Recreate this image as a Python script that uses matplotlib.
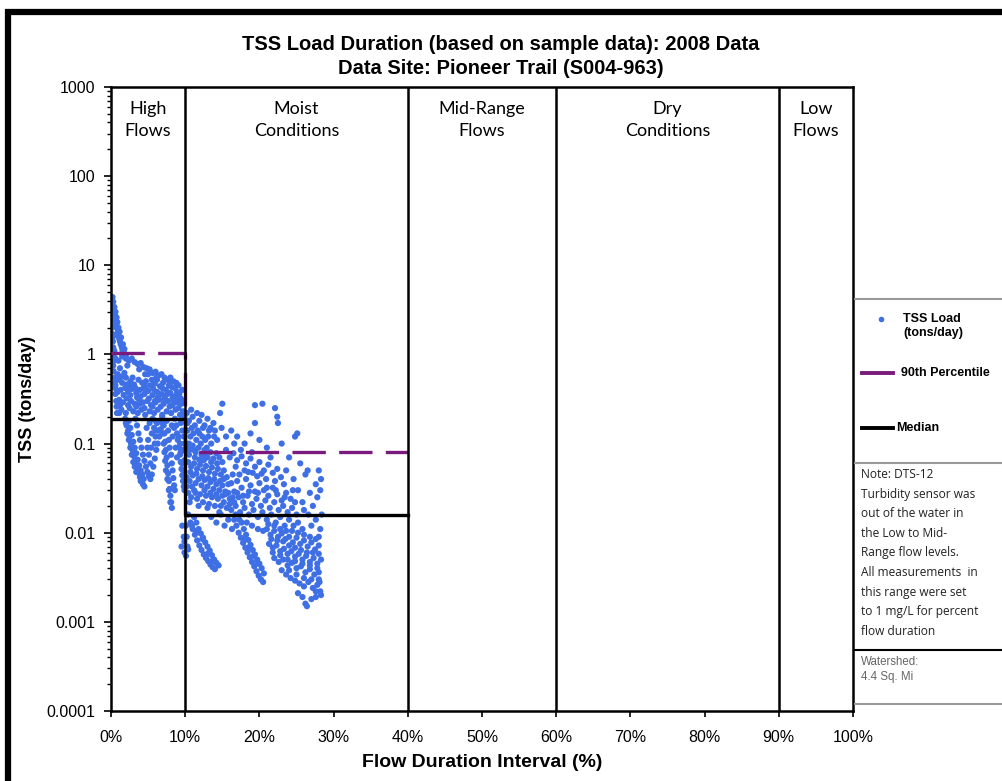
import matplotlib.pyplot as plt
import matplotlib.lines as mlines
import matplotlib.patches as mpatches
import numpy as np

plt.rcParams['font.family'] = ['Liberation Sans', 'DejaVu Sans']

# ---- data ----
zone_edges = [10, 40, 60, 90]
zone_labels = ['High\nFlows', 'Moist\nConditions', 'Mid-Range\nFlows', 'Dry\nConditions', 'Low\nFlows']
zone_centers = [5, 25, 50, 75, 95]

pct90_x = [0, 10, 10, 40]
pct90_y = [1.05, 1.05, 0.08, 0.08]
median_x = [0, 10, 10, 40]
median_y = [0.19, 0.19, 0.016, 0.016]

y_ticks = [0.0001, 0.001, 0.01, 0.1, 1, 10, 100, 1000]
y_tick_labels = ['0.0001', '0.001', '0.01', '0.1', '1', '10', '100', '1000']
x_ticks = [0, 10, 20, 30, 40, 50, 60, 70, 80, 90, 100]
x_tick_labels = ['%d%%' % t for t in x_ticks]

# high flows (0-10 %)
high_pts = [
    (0.1, 4.2), (0.15, 3.8), (0.2, 4.4), (0.25, 3.5), (0.3, 3.9), (0.35, 3.2), (0.4, 3.0), (0.45, 3.4),
    (0.5, 2.8), (0.55, 2.6), (0.6, 3.0), (0.65, 2.4), (0.7, 2.2), (0.75, 2.6), (0.8, 2.0), (0.85, 2.3),
    (0.9, 1.9), (0.95, 1.75), (1.0, 2.0), (1.05, 1.6), (1.1, 1.5), (1.15, 1.8), (1.2, 1.4), (1.3, 1.3),
    (1.35, 1.55), (1.45, 1.2), (1.55, 1.1), (1.6, 1.3), (1.7, 1.05), (1.8, 1.15), (1.9, 1.0), (2.0, 0.95),
    (0.05, 2.9), (0.1, 2.5), (0.15, 2.0), (0.2, 1.7), (0.25, 1.4), (0.3, 1.2), (0.35, 1.0), (0.4, 0.85),
    (0.3, 0.75), (0.35, 0.65), (0.45, 0.55), (0.5, 0.48), (0.55, 0.42), (0.6, 0.36), (0.7, 0.3),
    (0.75, 0.26), (0.8, 0.22), (0.05, 3.4), (0.1, 3.1), (0.2, 2.2), (0.3, 1.6), (0.45, 1.1), (0.6, 0.9),
    (1.5, 0.95), (2.0, 0.9), (2.4, 0.85), (2.8, 0.9), (3.2, 0.82), (3.6, 0.78), (4.0, 0.8), (4.4, 0.72),
    (4.8, 0.7), (5.2, 0.68), (5.6, 0.62), (6.0, 0.64), (6.4, 0.58), (6.8, 0.6), (7.2, 0.55), (7.6, 0.52),
    (8.0, 0.55), (8.4, 0.5), (8.8, 0.48), (9.1, 0.45), (5.0, 0.6), (6.2, 0.52), (7.0, 0.48), (7.8, 0.45),
    (8.6, 0.42), (1.2, 0.7), (1.8, 0.62), (2.2, 0.75), (1.0, 0.85),
    (1.0, 0.52), (1.5, 0.48), (2.0, 0.55), (2.6, 0.5), (3.1, 0.46), (3.7, 0.52), (4.2, 0.48), (4.7, 0.5),
    (5.3, 0.45), (5.9, 0.47), (1.3, 0.4), (1.9, 0.42), (2.3, 0.38), (2.8, 0.41), (3.4, 0.37), (3.9, 0.4),
    (4.5, 0.36), (5.0, 0.39), (5.6, 0.35), (6.2, 0.38), (6.8, 0.36), (7.4, 0.4), (8.0, 0.37), (8.6, 0.34),
    (9.2, 0.36), (1.1, 0.31), (1.6, 0.29), (2.1, 0.32), (2.7, 0.3), (3.2, 0.28), (3.8, 0.31), (4.3, 0.29),
    (4.9, 0.3), (5.4, 0.27), (6.0, 0.29), (6.5, 0.31), (7.1, 0.28), (7.7, 0.3), (8.3, 0.27), (8.9, 0.29),
    (9.5, 0.28), (1.4, 0.24), (2.0, 0.22), (2.5, 0.25), (3.0, 0.23), (3.6, 0.22), (4.1, 0.24), (4.6, 0.21),
    (5.2, 0.23), (5.8, 0.22), (6.3, 0.24), (6.9, 0.21), (7.5, 0.23), (8.1, 0.22), (8.7, 0.24), (9.3, 0.21),
    (9.7, 0.23), (1.7, 0.35), (2.4, 0.44), (3.5, 0.33), (4.4, 0.42), (5.5, 0.52), (6.6, 0.44), (7.3, 0.34),
    (8.2, 0.43), (9.0, 0.32), (9.6, 0.4),
    (0.9, 0.6), (1.4, 0.56), (2.1, 0.46), (2.9, 0.55), (3.3, 0.42), (4.0, 0.34), (4.6, 0.44), (5.1, 0.32),
    (5.7, 0.41), (6.3, 0.33), (6.9, 0.42), (7.6, 0.36), (8.3, 0.33), (8.9, 0.38), (9.4, 0.32), (1.2, 0.27),
    (2.3, 0.27), (3.4, 0.26), (4.5, 0.25), (5.6, 0.26), (6.7, 0.26), (7.9, 0.26), (9.1, 0.25), (9.8, 0.3),
    (9.9, 0.2), (0.6, 0.45), (0.9, 0.38), (1.1, 0.22), (2.6, 0.35), (3.9, 0.28), (5.9, 0.3), (7.2, 0.32),
    (8.5, 0.3), (6.1, 0.55), (7.9, 0.5), (4.6, 0.6), (3.8, 0.68),
    (1.9, 0.19), (2.1, 0.16), (2.3, 0.14), (2.5, 0.12), (2.7, 0.1), (2.9, 0.085), (3.1, 0.072), (3.3, 0.062),
    (3.5, 0.054), (3.7, 0.047), (3.9, 0.042), (4.1, 0.038), (4.3, 0.035), (4.5, 0.033),
    (2.4, 0.18), (2.6, 0.15), (2.8, 0.125), (3.0, 0.105), (3.2, 0.09), (3.4, 0.078), (3.6, 0.066),
    (3.8, 0.057), (4.0, 0.05), (4.2, 0.045),
    (2.0, 0.17), (2.2, 0.13), (2.4, 0.11), (2.6, 0.09), (2.8, 0.075), (3.0, 0.062), (3.2, 0.055),
    (3.4, 0.048), (4.0, 0.038), (4.4, 0.04),
    (3.3, 0.19), (3.5, 0.16), (3.7, 0.13), (3.9, 0.11), (4.1, 0.09), (4.3, 0.075), (4.5, 0.064), (4.7, 0.055),
    (4.9, 0.048), (5.1, 0.043), (5.3, 0.04),
    (5.5, 0.045), (5.7, 0.055), (5.9, 0.068), (6.1, 0.085), (6.3, 0.1), (6.5, 0.12), (6.7, 0.145), (6.9, 0.17),
    (5.2, 0.17), (5.5, 0.13), (5.8, 0.15), (5.0, 0.11), (5.4, 0.09), (6.0, 0.12), (6.2, 0.17), (4.8, 0.15),
    (5.6, 0.19), (6.4, 0.14), (6.0, 0.18), (5.9, 0.1), (6.1, 0.14), (5.3, 0.06), (5.1, 0.075), (4.9, 0.09),
    (6.9, 0.2), (7.1, 0.16), (7.2, 0.13), (7.3, 0.105), (7.4, 0.085), (7.5, 0.07), (7.6, 0.057), (7.7, 0.046),
    (7.8, 0.038), (7.9, 0.031), (8.0, 0.026), (8.1, 0.022), (8.2, 0.019),
    (6.8, 0.18), (7.0, 0.13), (7.1, 0.1), (7.2, 0.08), (7.3, 0.064), (7.4, 0.05), (7.6, 0.04), (7.8, 0.03),
    (8.0, 0.022),
    (7.5, 0.18), (7.7, 0.14), (7.8, 0.11), (7.9, 0.09), (8.1, 0.075), (8.2, 0.06), (8.3, 0.05), (8.4, 0.041),
    (8.5, 0.034), (8.6, 0.03), (8.3, 0.12), (8.5, 0.15), (8.2, 0.16), (8.7, 0.09), (8.9, 0.07),
    (8.6, 0.19), (8.8, 0.16), (8.9, 0.13), (9.0, 0.11), (9.2, 0.09), (9.3, 0.075), (9.4, 0.062), (9.5, 0.052),
    (9.6, 0.044), (9.7, 0.038), (9.8, 0.033), (9.9, 0.03),
    (9.1, 0.12), (9.3, 0.1), (9.4, 0.08), (9.6, 0.06), (9.7, 0.05), (9.9, 0.04),
    (9.4, 0.17), (9.6, 0.14), (9.8, 0.12), (9.9, 0.1), (9.7, 0.085), (9.9, 0.065),
    (9.6, 0.012), (9.8, 0.009), (9.5, 0.007), (9.9, 0.006),
]

# moist conditions (10-40 %)
moist_pts = [
    (10.2, 0.22), (10.5, 0.18), (10.8, 0.24), (11.0, 0.2), (11.3, 0.16), (11.6, 0.22), (11.9, 0.18),
    (12.2, 0.21), (12.6, 0.16), (13.0, 0.19), (13.4, 0.15), (13.8, 0.17),
    (10.3, 0.14), (10.7, 0.12), (11.1, 0.13), (11.5, 0.11), (11.9, 0.13), (12.3, 0.12), (12.7, 0.11),
    (13.1, 0.12), (13.5, 0.1), (13.9, 0.12), (14.3, 0.11),
    (10.2, 0.09), (10.6, 0.085), (11.0, 0.095), (11.4, 0.08), (11.8, 0.09), (12.2, 0.075), (12.6, 0.085),
    (13.0, 0.07), (13.4, 0.08), (13.8, 0.068), (14.2, 0.078), (14.6, 0.07),
    (10.4, 0.062), (10.8, 0.055), (11.2, 0.06), (11.6, 0.052), (12.0, 0.058), (12.4, 0.05), (12.8, 0.056),
    (13.2, 0.048), (13.6, 0.054), (14.0, 0.046), (14.4, 0.052), (14.8, 0.045), (15.2, 0.05),
    (10.2, 0.042), (10.6, 0.038), (11.0, 0.044), (11.4, 0.036), (11.8, 0.04), (12.2, 0.034), (12.6, 0.039),
    (13.0, 0.033), (13.4, 0.037), (13.8, 0.031), (14.2, 0.035), (14.6, 0.03), (15.0, 0.034), (15.4, 0.029),
    (10.4, 0.028), (10.8, 0.025), (11.2, 0.03), (11.6, 0.024), (12.0, 0.027), (12.4, 0.022), (12.8, 0.026),
    (13.2, 0.021), (13.6, 0.025), (14.0, 0.02), (14.4, 0.024), (14.8, 0.02), (15.2, 0.022), (15.6, 0.019),
    (16.0, 0.021), (10.5, 0.1), (11.3, 0.07), (12.1, 0.1), (12.9, 0.09), (10.9, 0.033), (12.5, 0.065),
    (10.3, 0.17), (10.9, 0.15), (11.7, 0.14), (12.4, 0.15), (13.2, 0.14), (14.0, 0.14), (10.5, 0.075),
    (11.2, 0.085), (11.9, 0.066), (12.7, 0.072), (13.5, 0.062), (14.3, 0.06), (15.0, 0.062), (10.7, 0.048),
    (11.5, 0.046), (12.3, 0.043), (13.1, 0.041), (13.9, 0.04), (14.7, 0.038), (15.6, 0.042), (16.2, 0.036),
    (10.2, 0.033), (11.4, 0.028), (12.6, 0.03), (13.4, 0.028), (14.2, 0.027), (15.0, 0.026), (15.8, 0.028),
    (16.4, 0.025), (17.0, 0.028), (10.6, 0.022), (11.8, 0.02), (13.0, 0.019), (14.6, 0.017),
    (14.7, 0.22), (15.0, 0.28), (19.4, 0.27), (20.4, 0.28), (22.1, 0.25), (22.4, 0.2), (22.5, 0.17),
    (19.4, 0.17), (25.1, 0.13), (16.2, 0.14), (17.0, 0.12), (18.0, 0.1), (16.6, 0.1), (17.5, 0.085),
    (15.5, 0.12), (14.9, 0.15), (18.8, 0.13), (20.0, 0.11), (21.0, 0.09), (23.0, 0.1), (24.8, 0.12),
    (24.0, 0.07), (25.5, 0.06), (26.5, 0.05),
    (15.5, 0.085), (16.0, 0.07), (16.5, 0.078), (17.0, 0.065), (17.6, 0.072), (18.2, 0.06), (18.8, 0.068),
    (19.4, 0.055), (20.0, 0.062), (20.6, 0.05), (21.2, 0.058), (21.8, 0.047), (22.4, 0.052),
    (15.2, 0.04), (15.8, 0.035), (16.4, 0.045), (17.0, 0.038), (17.6, 0.032), (18.2, 0.04), (18.8, 0.034),
    (19.4, 0.029), (20.0, 0.036), (20.6, 0.03), (21.2, 0.026), (21.8, 0.032), (22.4, 0.027), (23.0, 0.023),
    (23.6, 0.028), (24.2, 0.024),
    (16.6, 0.022), (17.8, 0.026), (18.6, 0.029), (19.8, 0.028), (21.0, 0.032), (22.2, 0.03), (23.4, 0.025),
    (24.8, 0.022), (17.3, 0.045), (18.5, 0.048), (19.7, 0.043), (20.9, 0.04), (22.1, 0.038), (23.3, 0.035),
    (16.8, 0.055), (18.0, 0.05), (19.1, 0.047), (20.3, 0.046), (19.0, 0.08), (21.5, 0.07), (23.6, 0.05),
    (24.5, 0.03), (22.9, 0.042),
    (15.4, 0.027), (16.0, 0.024), (16.6, 0.029), (17.2, 0.025), (17.8, 0.022), (18.4, 0.026), (19.0, 0.021),
    (19.6, 0.024), (20.2, 0.02), (20.8, 0.023), (21.4, 0.019), (22.0, 0.022), (22.6, 0.018), (23.2, 0.02),
    (23.8, 0.017), (24.4, 0.019), (25.0, 0.016),
    (16.2, 0.018), (16.8, 0.02), (17.4, 0.017), (18.0, 0.019), (18.6, 0.016), (19.2, 0.018), (19.8, 0.015),
    (20.4, 0.017), (21.0, 0.014), (21.6, 0.016), (22.2, 0.013), (22.8, 0.015), (23.4, 0.012), (24.0, 0.014),
    (24.6, 0.012), (25.2, 0.013), (25.8, 0.011),
    (10.4, 0.016), (10.7, 0.013), (11.0, 0.011), (11.3, 0.0095), (11.6, 0.0082), (11.9, 0.0072),
    (12.2, 0.0064), (12.5, 0.0057), (12.8, 0.0052), (13.1, 0.0048), (13.4, 0.0044), (13.7, 0.0041),
    (14.0, 0.0039),
    (11.2, 0.015), (11.5, 0.013), (11.8, 0.011), (12.1, 0.0098), (12.4, 0.0088), (12.7, 0.0078),
    (13.0, 0.007), (13.3, 0.0063), (13.6, 0.0056), (13.9, 0.005), (14.2, 0.0046), (14.5, 0.0043),
    (10.9, 0.012), (11.6, 0.0105), (12.3, 0.0085), (13.0, 0.0058), (13.6, 0.0048),
    (10.1, 0.012), (10.2, 0.009), (10.3, 0.007), (10.1, 0.0055), (10.4, 0.0065), (9.9, 0.008),
    (13.5, 0.015), (14.2, 0.013), (14.8, 0.016), (15.3, 0.012), (15.8, 0.014), (16.3, 0.011),
    (16.6, 0.014), (16.9, 0.012), (17.2, 0.01), (17.5, 0.0088), (17.8, 0.0077), (18.1, 0.0068),
    (18.4, 0.006), (18.7, 0.0053), (19.0, 0.0047), (19.3, 0.0042), (19.6, 0.0037), (19.9, 0.0033),
    (20.2, 0.003), (20.5, 0.0028),
    (17.6, 0.013), (17.9, 0.011), (18.2, 0.0095), (18.5, 0.0083), (18.8, 0.0073), (19.1, 0.0064),
    (19.4, 0.0057), (19.7, 0.005), (20.0, 0.0045), (20.3, 0.004),
    (18.0, 0.0085), (18.6, 0.0068), (19.2, 0.0055), (19.8, 0.0045), (20.6, 0.0035), (16.8, 0.016),
    (17.3, 0.014), (18.3, 0.013), (19.0, 0.012), (19.8, 0.011), (20.5, 0.0105),
    (21.0, 0.011), (21.5, 0.0095), (22.0, 0.0105), (22.5, 0.009), (23.0, 0.0098), (23.5, 0.0085),
    (24.0, 0.009), (24.5, 0.0078), (25.0, 0.0088), (25.5, 0.0075), (26.0, 0.0082), (26.5, 0.007),
    (27.0, 0.0078), (27.5, 0.0065), (28.0, 0.0072),
    (21.2, 0.0125), (22.0, 0.012), (22.8, 0.011), (23.6, 0.0105), (24.4, 0.0105), (25.2, 0.01),
    (26.0, 0.0095), (26.8, 0.009), (27.6, 0.0085), (21.6, 0.0085), (22.4, 0.0082), (23.2, 0.008),
    (24.0, 0.0072), (24.8, 0.0068), (25.6, 0.0064), (26.4, 0.006), (27.2, 0.006), (28.0, 0.0058),
    (21.3, 0.0075), (21.8, 0.0068), (22.3, 0.0072), (22.8, 0.0062), (23.3, 0.0066), (23.8, 0.0058),
    (24.3, 0.0062), (24.8, 0.0054), (25.3, 0.0058), (25.8, 0.005), (26.3, 0.0055), (26.8, 0.0047),
    (27.3, 0.0052), (27.8, 0.0045), (28.3, 0.005),
    (21.8, 0.006), (22.8, 0.0056), (23.8, 0.005), (24.8, 0.0048), (25.8, 0.0045), (26.8, 0.0043),
    (27.8, 0.004), (24.0, 0.0038), (25.0, 0.0034), (26.0, 0.0031), (27.0, 0.003), (28.0, 0.003),
    (22.0, 0.0052), (22.6, 0.0047), (23.2, 0.005), (23.8, 0.0043), (24.4, 0.0046), (25.0, 0.004),
    (25.6, 0.0042), (26.2, 0.0036), (26.8, 0.0039), (27.4, 0.0034), (28.0, 0.0036),
    (23.0, 0.0038), (23.6, 0.0034), (24.2, 0.0031), (24.8, 0.0029), (25.4, 0.0027), (26.0, 0.0025),
    (26.6, 0.0028), (27.2, 0.0024), (27.8, 0.0026), (28.2, 0.0022),
    (25.2, 0.0021), (25.8, 0.0019), (26.2, 0.0016), (26.4, 0.0015), (27.0, 0.0018), (27.6, 0.0019),
    (28.3, 0.002), (28.1, 0.0028), (27.6, 0.0022),
    (26.0, 0.018), (26.6, 0.016), (27.2, 0.02), (27.8, 0.025), (28.2, 0.03), (28.3, 0.04), (28.0, 0.05),
    (27.6, 0.035), (26.8, 0.028), (25.8, 0.022), (25.2, 0.03), (24.6, 0.04), (26.2, 0.045), (27.0, 0.012),
    (27.6, 0.014), (28.2, 0.011), (28.4, 0.016), (28.0, 0.009),
]

hx = [p[0] for p in high_pts]
hy = [p[1] for p in high_pts]
mx = [p[0] for p in moist_pts]
my = [p[1] for p in moist_pts]

blue = '#3f6fe4'
purple = '#7a1a7c'

fig = plt.figure(figsize=(10.02, 7.81), dpi=100)
ax = fig.add_axes([0.1108, 0.0896, 0.7405, 0.799])

ax.scatter(hx + mx, hy + my, s=20, color=blue, edgecolors='none', zorder=2)

ax.plot(pct90_x, pct90_y, color=purple, lw=2.4, dashes=(10, 4), zorder=3)
ax.plot(median_x, median_y, color='black', lw=2.4, zorder=4)

for e in zone_edges:
    ax.axvline(e, color='black', lw=1.8, zorder=5)

for c, lab in zip(zone_centers, zone_labels):
    ax.text(c, 0.978, lab, transform=ax.get_xaxis_transform(), ha='center', va='top',
            fontsize=13, family=['Lato', 'DejaVu Sans'], linespacing=1.45)

ax.set_yscale('log')
ax.set_ylim(0.0001, 1000)
ax.set_xlim(0, 100)
ax.set_yticks(y_ticks)
ax.set_yticklabels(y_tick_labels, fontsize=11.5)
ax.set_xticks(x_ticks)
ax.set_xticklabels(x_tick_labels, fontsize=11.5)
ax.tick_params(axis='x', length=4, width=1.2, pad=10)
ax.tick_params(axis='y', which='major', length=5, width=1.2, pad=6)
ax.tick_params(axis='y', which='minor', length=3, width=1)
for sp in ax.spines.values():
    sp.set_linewidth(1.8)

ax.set_ylabel('TSS (tons/day)', fontsize=13, fontweight='bold', labelpad=8)
ax.set_xlabel('Flow Duration Interval (%)', fontsize=14, fontweight='bold', labelpad=6)
fig.text(0.5, 1 - 45 / 781, 'TSS Load Duration (based on sample data): 2008 Data',
         ha='center', va='center', fontsize=14.5, fontweight='bold')
fig.text(0.5, 1 - 69 / 781, 'Data Site: Pioneer Trail (S004-963)',
         ha='center', va='center', fontsize=14.5, fontweight='bold')

# legend / note panel on the right
W, H = 1002.0, 781.0
def fx(px):
    return px / W
def fy(py):
    return 1 - py / H

for py, col in [(299, '#999999'), (463, '#999999'), (650, 'black'), (704, '#999999')]:
    fig.add_artist(mlines.Line2D([fx(855), 1.0], [fy(py), fy(py)], color=col, lw=1.5))

fig.add_artist(mlines.Line2D([fx(881)], [fy(319)], marker='o', ms=3, color=blue, ls='none'))
fig.text(fx(903), fy(326), 'TSS Load\n(tons/day)', fontsize=9, fontweight='bold', va='center')
fig.add_artist(mlines.Line2D([fx(862), fx(893)], [fy(373), fy(373)], color=purple, lw=2.8))
fig.text(fx(901), fy(373), '90th Percentile', fontsize=9, fontweight='bold', va='center')
fig.add_artist(mlines.Line2D([fx(862), fx(893)], [fy(428), fy(428)], color='black', lw=2.8))
fig.text(fx(896), fy(428), 'Median', fontsize=9, fontweight='bold', va='center')

note = ('Note: DTS-12\nTurbidity sensor was\nout of the water in\nthe Low to Mid-\n'
        'Range flow levels.\nAll measurements  in\nthis range were set\n'
        'to 1 mg/L for percent\nflow duration')
fig.text(fx(861), fy(468), note, fontsize=8.6, va='top', linespacing=1.66,
         family=['Open Sans', 'DejaVu Sans'], color='#222222')
fig.text(fx(861), fy(656), 'Watershed:\n4.4 Sq. Mi', fontsize=8.3, va='top',
         color='#666666', linespacing=1.3)

# thick outer frame (top and left visible)
fig.add_artist(mpatches.Rectangle((fx(8), -0.2), 1.2, fy(12) + 0.2, fill=False,
                                  lw=4.5, edgecolor='black', transform=fig.transFigure))

fig.savefig('out.png', dpi=100)
